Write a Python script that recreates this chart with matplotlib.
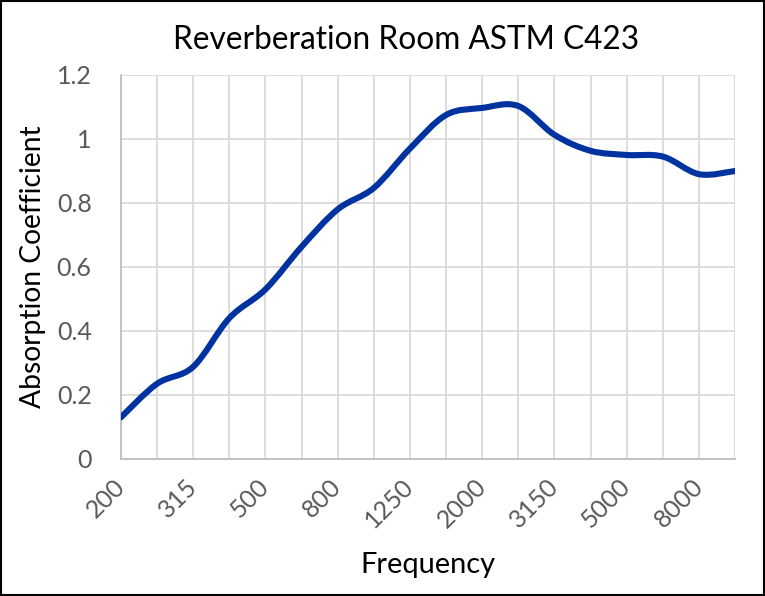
import matplotlib
matplotlib.use("Agg")
import matplotlib.pyplot as plt
from matplotlib.path import Path
from matplotlib.patches import PathPatch, Rectangle
from matplotlib.transforms import ScaledTranslation
import numpy as np

freqs = ["200", "250", "315", "400", "500", "630", "800", "1000", "1250", "1600",
         "2000", "2500", "3150", "4000", "5000", "6300", "8000", "10000"]
absorption = [0.13, 0.235, 0.288, 0.44, 0.53, 0.663, 0.78, 0.847, 0.97, 1.075,
              1.097, 1.103, 1.013, 0.963, 0.95, 0.945, 0.89, 0.90]
title = "Reverberation Room ASTM C423"
xlabel = "Frequency"
ylabel = "Absorption Coefficient"

plt.rcParams['font.family'] = ['Lato', 'DejaVu Sans']

fig = plt.figure(figsize=(7.65, 5.96), dpi=100)
ax = fig.add_axes([0.158, 0.2299, 0.803, 0.6443])

x = np.arange(len(freqs), dtype=float)
y = np.array(absorption, dtype=float)

# Smoothed line (Catmull-Rom style Bezier, like spreadsheet "smoothed line")
pts = np.column_stack([x, y])
n = len(pts)
verts = [pts[0]]
codes = [Path.MOVETO]
for i in range(n - 1):
    p0 = pts[i - 1] if i > 0 else pts[i]
    p1 = pts[i]
    p2 = pts[i + 1]
    p3 = pts[i + 2] if i + 2 < n else pts[i + 1]
    c1 = p1 + (p2 - p0) / 6.0
    c2 = p2 - (p3 - p1) / 6.0
    verts += [c1, c2, p2]
    codes += [Path.CURVE4] * 3
path = Path(np.array(verts), codes)
ax.add_patch(PathPatch(path, fill=False, edgecolor='#0033A0', linewidth=4.4,
                       capstyle='round', joinstyle='round', zorder=3))

ax.set_xlim(0, len(freqs) - 1)
ax.set_ylim(0, 1.2)
ax.set_yticks(np.arange(0, 1.21, 0.2))
ax.set_yticklabels(["0", "0.2", "0.4", "0.6", "0.8", "1", "1.2"])
ax.set_xticks(x, minor=True)
ax.set_xticks(x[::2])
ax.set_xticklabels(freqs[::2], rotation=45, ha='right', va='center',
                   rotation_mode='anchor')
shift = ScaledTranslation(4 / 100, 2 / 100, fig.dpi_scale_trans)
for lbl in ax.get_xticklabels():
    lbl.set_transform(lbl.get_transform() + shift)

ax.grid(True, which='both', axis='x', color='#D9D9D9', linewidth=1.3)
ax.grid(True, which='major', axis='y', color='#D9D9D9', linewidth=1.3)
ax.set_axisbelow(True)
for s in ['top', 'right']:
    ax.spines[s].set_visible(False)
for s in ['left', 'bottom']:
    ax.spines[s].set_color('#BFBFBF')
    ax.spines[s].set_linewidth(1.3)
ax.tick_params(axis='both', which='both', length=0, labelsize=18, labelcolor='#595959')
ax.tick_params(axis='x', pad=17)
ax.tick_params(axis='y', pad=21)

ax.set_title(title, fontsize=22.8, color='#000000', pad=18.5, x=0.464)
ax.set_xlabel(xlabel, fontsize=20.9, color='#000000')
ax.set_ylabel(ylabel, fontsize=20.3, color='#000000')
ax.xaxis.set_label_coords(0.5, -0.243)
ax.yaxis.set_label_coords(-0.122, 0.5)

fig.patches.append(Rectangle((0.001, 0.001), 0.998, 0.998, transform=fig.transFigure,
                             fill=False, edgecolor='black', linewidth=1.5))

fig.savefig("out.png", dpi=100)
